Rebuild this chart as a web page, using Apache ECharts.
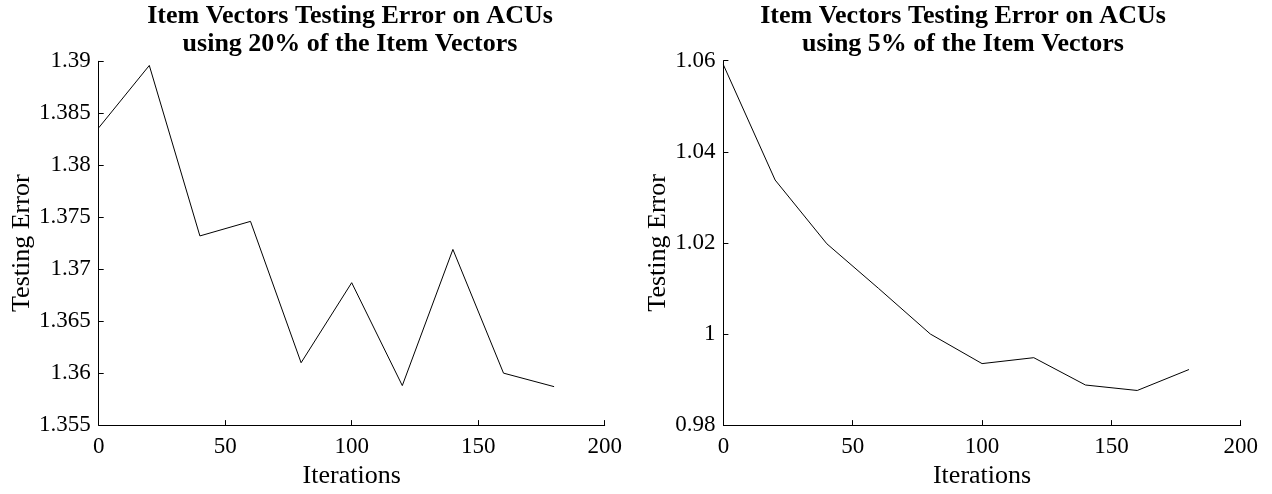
<!DOCTYPE html>
<html><head><meta charset="utf-8">
<script src="https://cdn.jsdelivr.net/npm/echarts@6/dist/echarts.min.js"></script>
<style>html,body{margin:0;padding:0;background:#fff}#c{width:1272px;height:494px}</style>
</head><body><div id="c"></div>
<script>
const iterations = [0, 20, 40, 60, 80, 100, 120, 140, 160, 180];
const error20 = [1.3836, 1.3896, 1.3732, 1.3746, 1.3610, 1.3687, 1.3588, 1.3719, 1.3600, 1.3587];
const error5 = [1.0591, 1.0338, 1.0198, 1.0100, 1.0000, 0.9935, 0.9948, 0.9888, 0.9876, 0.9922];
const titles = ['Item Vectors Testing Error on ACUs\nusing 20% of the Item Vectors',
                'Item Vectors Testing Error on ACUs\nusing 5% of the Item Vectors'];
const xTicks = [0, 50, 100, 150, 200];

const FONT = 'Liberation Serif';
const chart = echarts.init(document.getElementById('c'));
function fmt(d){ return v => String(parseFloat(v.toFixed(d))); }
const axisCommon = {
  axisLine: {show: true, onZero: false, lineStyle: {color: '#000', width: 1}},
  axisTick: {show: true, inside: true, length: 5, lineStyle: {color: '#000'}},
  splitLine: {show: false},
  nameTextStyle: {fontFamily: FONT, fontSize: 26, color: '#000'},
  axisLabel: {fontFamily: FONT, fontSize: 23, color: '#000'}
};
function xAxis(i){
  return Object.assign({}, axisCommon, {
    type: 'value', gridIndex: i, min: xTicks[0], max: xTicks[xTicks.length - 1], interval: xTicks[1] - xTicks[0],
    name: 'Iterations', nameLocation: 'middle', nameGap: 36,
    axisLabel: Object.assign({}, axisCommon.axisLabel, {margin: 10})
  });
}
function yAxis(i, min, max, interval, dec, gap){
  return Object.assign({}, axisCommon, {
    type: 'value', gridIndex: i, min: min, max: max, interval: interval,
    name: 'Testing Error', nameLocation: 'middle', nameGap: gap, nameRotate: 90,
    axisLabel: Object.assign({}, axisCommon.axisLabel, {margin: 8, formatter: fmt(dec)})
  });
}
const titleStyle = {fontFamily: FONT, fontWeight: 'bold', fontSize: 26, lineHeight: 28, color: '#000'};
chart.setOption({
  animation: false,
  backgroundColor: '#fff',
  title: [
    {text: titles[0], left: 350, top: 2, padding: 0, textAlign: 'center', textStyle: titleStyle},
    {text: titles[1], left: 963, top: 2, padding: 0, textAlign: 'center', textStyle: titleStyle}
  ],
  grid: [
    {left: 98.7, top: 61.3, width: 506, height: 366.5},
    {left: 723.4, top: 60.7, width: 517.3, height: 367.5}
  ],
  xAxis: [xAxis(0), xAxis(1)],
  yAxis: [yAxis(0, 1.355, 1.39, 0.005, 3, 64), yAxis(1, 0.98, 1.06, 0.02, 2, 52)],
  series: [
    {type: 'line', xAxisIndex: 0, yAxisIndex: 0, showSymbol: false,
     lineStyle: {color: '#000', width: 1}, itemStyle: {color: '#000'},
     data: iterations.map((x, k) => [x, error20[k]])},
    {type: 'line', xAxisIndex: 1, yAxisIndex: 1, showSymbol: false,
     lineStyle: {color: '#000', width: 1}, itemStyle: {color: '#000'},
     data: iterations.map((x, k) => [x, error5[k]])}
  ]
});
</script></body></html>
